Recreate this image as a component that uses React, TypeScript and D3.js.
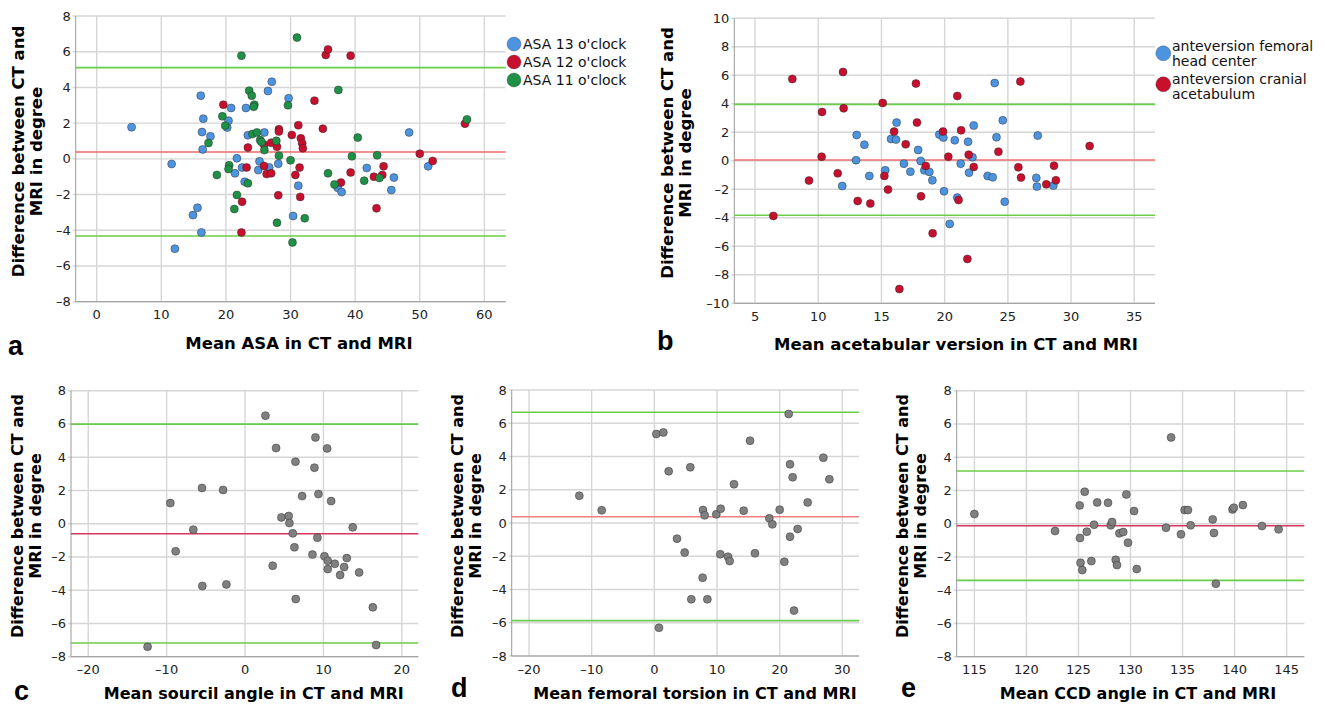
import React from 'react';
import * as d3 from 'd3';

type Pt = [number, number];

// ---------- Panel a: ASA ----------
const asa13: Pt[] = [[5.4,1.77],[11.6,-0.29],[12.1,-5.03],[14.9,-3.15],[15.6,-2.74],[16.2,-4.12],[16.1,3.54],[16.5,2.25],[16.3,1.5],[16.4,0.53],[17.6,1.26],[20.4,2.14],[20.2,1.75],[20.8,2.85],[21.7,0.03],[21.4,-0.81],[22.5,-0.49],[22.9,-1.28],[23.1,2.85],[23.4,1.32],[25.2,-0.14],[25.0,-0.63],[25.95,1.48],[26.7,-0.48],[26.5,3.8],[27.1,4.32],[28.1,-0.27],[29.7,3.39],[31.2,-1.5],[30.4,-3.2],[37.3,-1.62],[37.9,-1.86],[41.8,-0.51],[46.0,-1.05],[45.6,-1.75],[48.35,1.48],[51.3,-0.42]];
const asa12: Pt[] = [[19.6,3.03],[23.4,0.63],[23.2,-0.48],[22.5,-2.4],[22.4,-4.12],[25.9,0.79],[25.9,-0.4],[26.3,-0.85],[27.0,-0.81],[27.0,0.9],[27.9,0.68],[28.2,1.66],[28.2,1.53],[28.1,-2.04],[30.2,1.34],[30.75,-0.9],[31.2,1.88],[31.4,-0.49],[31.5,-2.13],[31.6,1.15],[31.8,0.87],[31.9,0.59],[33.7,3.26],[35.0,1.69],[35.45,5.82],[35.8,6.13],[39.3,5.78],[39.3,-0.76],[37.8,-1.33],[42.9,-1.0],[44.2,-0.9],[44.4,-0.42],[43.3,-2.77],[50.0,0.29],[52.0,-0.12],[57.0,1.97]];
const asa11: Pt[] = [[18.6,-0.9],[17.3,0.89],[19.45,2.38],[19.9,1.86],[20.5,-0.36],[20.4,-0.57],[21.7,-2.02],[21.3,-2.81],[22.4,5.78],[23.6,3.82],[24.0,3.54],[24.4,3.03],[24.3,2.92],[23.4,-1.37],[24.1,1.39],[24.8,1.48],[25.3,1.05],[25.5,0.95],[25.95,0.49],[27.8,1.01],[27.9,-3.58],[28.2,0.18],[29.6,3.0],[30.0,-0.08],[31.0,6.79],[30.3,-4.68],[32.2,-3.33],[35.8,-0.81],[37.4,3.86],[36.8,-1.43],[40.4,1.19],[39.5,0.14],[41.4,-1.22],[43.4,0.2],[43.75,-1.07],[57.3,2.21]];
const asaLines = { mean: 0.38, upper: 5.11, lower: -4.32 };
const asaLegend = ["ASA 13 o'clock", "ASA 12 o'clock", "ASA 11 o'clock"];

// ---------- Panel b: acetabular version ----------
const antFemoral: Pt[] = [[13.04,1.81],[13.65,1.13],[12.99,0.04],[11.9,-1.77],[14.04,-1.06],[15.3,-0.67],[15.76,1.53],[16.15,1.49],[16.2,2.68],[16.78,-0.2],[17.29,-0.76],[17.9,0.76],[18.1,-0.01],[18.39,-0.67],[18.79,-0.78],[19.03,-1.37],[19.58,1.84],[19.9,1.63],[19.95,-2.14],[20.4,-4.43],[20.8,1.44],[21.0,-2.58],[21.27,-0.2],[21.85,1.34],[21.93,-0.83],[22.2,0.25],[22.3,2.47],[23.4,-1.06],[23.8,-1.16],[23.96,5.46],[24.1,1.65],[24.6,2.84],[24.75,-2.87],[27.36,1.77],[27.25,-1.2],[27.3,-1.81],[28.6,-1.74]];
const antCranial: Pt[] = [[7.95,5.74],[6.45,-3.87],[9.27,-1.39],[10.3,3.43],[10.27,0.29],[11.96,6.23],[12.01,3.68],[11.54,-0.88],[13.12,-2.82],[14.12,-3.0],[15.1,4.06],[15.23,-1.06],[15.52,-2.02],[16.0,2.05],[16.42,-9.0],[16.92,1.16],[17.73,5.42],[17.81,2.68],[18.13,-2.49],[18.5,-0.36],[19.05,-5.09],[19.87,2.05],[20.29,0.29],[21.0,4.55],[21.1,-2.75],[21.3,2.14],[21.8,-6.89],[21.9,0.43],[22.3,-0.43],[24.25,0.64],[25.99,5.56],[25.83,-0.46],[26.04,-1.18],[28.04,-1.65],[28.65,-0.34],[28.8,-1.37],[31.47,1.04]];
const versionLines = { mean: 0.06, upper: 3.96, lower: -3.82 };
const versionLegend = [["anteversion femoral", "head center"], ["anteversion cranial", "acetabulum"]];

// ---------- Panel c: sourcil angle ----------
const sourcil: Pt[] = [[-12.43,-7.4],[-9.53,1.24],[-8.85,-1.66],[-6.6,-0.36],[-5.49,2.15],[-5.45,-3.75],[-2.8,2.03],[-2.38,-3.65],[2.6,6.5],[3.53,-2.53],[3.96,4.55],[4.64,0.38],[5.57,0.46],[5.66,0.04],[6.09,-0.58],[6.3,-1.42],[6.43,3.73],[6.47,-4.53],[7.28,1.66],[8.6,-1.86],[8.85,3.37],[8.98,5.19],[9.23,-0.84],[9.36,1.78],[10.13,-1.96],[10.47,4.53],[10.55,-2.23],[10.55,-2.73],[10.98,1.36],[11.45,-2.41],[12.13,-3.09],[12.64,-2.61],[12.98,-2.07],[13.74,-0.22],[14.55,-2.93],[16.3,-5.03],[16.72,-7.3]];
const sourcilLines = { mean: -0.6, upper: 5.99, lower: -7.18 };

// ---------- Panel d: femoral torsion ----------
const torsion: Pt[] = [[-11.97,1.64],[-8.4,0.76],[0.32,5.35],[1.44,5.45],[0.74,-6.3],[2.29,3.11],[3.62,-0.94],[4.84,-1.78],[5.74,3.35],[5.9,-4.59],[7.77,0.78],[8.03,0.46],[7.71,-3.29],[8.46,-4.59],[9.89,0.52],[10.59,0.86],[10.53,-1.88],[11.76,-2.03],[12.02,-2.29],[12.71,2.33],[14.26,0.74],[15.27,4.95],[16.06,-1.82],[18.35,0.28],[18.83,-0.08],[20.0,0.8],[20.74,-2.33],[21.44,6.56],[21.65,-0.82],[21.65,3.53],[22.07,2.75],[22.29,-5.27],[22.87,-0.36],[24.47,1.24],[26.97,3.93],[27.93,2.63]];
const torsionLines = { mean: 0.38, upper: 6.66, lower: -5.87 };

// ---------- Panel e: CCD angle ----------
const ccd: Pt[] = [[115.0,0.58],[122.75,-0.44],[125.12,1.1],[125.15,-0.86],[125.2,-2.35],[125.37,-2.79],[125.6,1.92],[125.8,-0.48],[126.24,-2.25],[126.5,-0.06],[126.8,1.28],[127.84,1.26],[128.1,-0.1],[128.23,0.1],[128.58,-2.17],[128.7,-2.49],[128.93,-0.58],[129.3,-0.5],[129.6,1.76],[129.76,-1.14],[130.34,0.76],[130.6,-2.73],[133.41,-0.24],[133.9,5.19],[134.85,-0.64],[135.2,0.82],[135.52,0.82],[135.78,-0.1],[137.9,0.26],[138.02,-0.56],[138.2,-3.61],[139.8,0.86],[139.93,0.96],[140.8,1.12],[142.63,-0.14],[144.23,-0.34]];
const ccdLines = { mean: -0.12, upper: 3.17, lower: -3.41 };

// tick values
const yTicks8 = [-8, -6, -4, -2, 0, 2, 4, 6, 8];
const yTicks10 = [-10, -8, -6, -4, -2, 0, 2, 4, 6, 8, 10];
const xTicksA = [0, 10, 20, 30, 40, 50, 60];
const xTicksB = [5, 10, 15, 20, 25, 30, 35];
const xTicksC = [-20, -10, 0, 10, 20];
const xTicksD = [-20, -10, 0, 10, 20, 30];
const xTicksE = [115, 120, 125, 130, 135, 140, 145];

const BLUE = '#4d94e0';
const RED = '#c8102e';
const GREEN = '#1f9147';
const GRAY = '#808080';
const LOA = '#6acd4a';
const FONT = "'DejaVu Sans', Verdana, sans-serif";
const LETTER_FONT = "'Liberation Sans', Arial, sans-serif";

type Series = { data: Pt[]; fill: string };
type Cfg = {
  left: number; right: number; top: number; bottom: number;
  xDomain: [number, number]; yDomain: [number, number];
  xTicks: number[]; yTicks: number[];
  series: Series[];
  lines: { mean: number; upper: number; lower: number };
  meanColor: string;
  xTitle: string; xTitleX: number; xTitleY: number;
  yTitleX1: number; yTitleX2: number; yTitleCY: number;
  letter: string; letterX: number; letterY: number;
  titleSize: number;
};

const fmt = (v: number) => (v < 0 ? '\u2013' + Math.abs(v) : String(v));

function Panel({ c }: { c: Cfg }) {
  const x = d3.scaleLinear().domain(c.xDomain).range([c.left, c.right]);
  const y = d3.scaleLinear().domain(c.yDomain).range([c.bottom, c.top]);
  return (
    <g>
      {c.xTicks.map((t) => (
        <line key={'gx' + t} x1={x(t)} x2={x(t)} y1={c.top} y2={c.bottom} stroke="#d6d6d6" strokeWidth={1.4} />
      ))}
      {c.yTicks.map((t) => (
        <line key={'gy' + t} x1={c.left - 3} x2={c.right} y1={y(t)} y2={y(t)} stroke="#d6d6d6" strokeWidth={1.4} />
      ))}
      <line x1={c.left} x2={c.left} y1={c.top} y2={c.bottom} stroke="#9a9a9a" strokeWidth={1} />
      <line x1={c.left} x2={c.right} y1={c.bottom} y2={c.bottom} stroke="#9a9a9a" strokeWidth={1} />
      <line x1={c.left} x2={c.right} y1={y(c.lines.upper)} y2={y(c.lines.upper)} stroke={LOA} strokeWidth={1.6} />
      <line x1={c.left} x2={c.right} y1={y(c.lines.lower)} y2={y(c.lines.lower)} stroke={LOA} strokeWidth={1.6} />
      <line x1={c.left} x2={c.right} y1={y(c.lines.mean)} y2={y(c.lines.mean)} stroke={c.meanColor} strokeWidth={1.6} />
      {c.series.map((s, si) => (
        <g key={'s' + si}>
          {s.data.map((p, i) => (
            <circle key={i} cx={x(p[0])} cy={y(p[1])} r={4} fill={s.fill} stroke="rgba(40,40,40,0.65)" strokeWidth={0.7} />
          ))}
        </g>
      ))}
      {c.yTicks.map((t) => (
        <text key={'ty' + t} x={c.left - 5} y={y(t)} textAnchor="end" dominantBaseline="central" fontFamily={FONT} fontSize={13} fill="#222">{fmt(t)}</text>
      ))}
      {c.xTicks.map((t) => (
        <text key={'tx' + t} x={x(t)} y={c.bottom + 17.5} textAnchor="middle" fontFamily={FONT} fontSize={13} fill="#222">{fmt(t)}</text>
      ))}
      <text x={c.xTitleX} y={c.xTitleY} textAnchor="middle" fontFamily={FONT} fontWeight="bold" fontSize={c.titleSize} fill="#000">{c.xTitle}</text>
      <text transform={`translate(${c.yTitleX1},${c.yTitleCY}) rotate(-90)`} textAnchor="middle" dominantBaseline="central" fontFamily={FONT} fontWeight="bold" fontSize={c.titleSize} fill="#000">Difference between CT and</text>
      <text transform={`translate(${c.yTitleX2},${c.yTitleCY}) rotate(-90)`} textAnchor="middle" dominantBaseline="central" fontFamily={FONT} fontWeight="bold" fontSize={c.titleSize} fill="#000">MRI in degree</text>
      <text x={c.letterX} y={c.letterY} fontFamily={LETTER_FONT} fontWeight="bold" fontSize={27} fill="#000">{c.letter}</text>
    </g>
  );
}

const panels: Cfg[] = [
  {
    left: 75.7, right: 505.7, top: 16, bottom: 301.7,
    xDomain: [-3.25, 63.3], yDomain: [-8, 8], xTicks: xTicksA, yTicks: yTicks8,
    series: [{ data: asa13, fill: BLUE }, { data: asa12, fill: RED }, { data: asa11, fill: GREEN }],
    lines: asaLines, meanColor: '#ec6a6c',
    xTitle: 'Mean ASA in CT and MRI', xTitleX: 299, xTitleY: 349,
    yTitleX1: 18.3, yTitleX2: 36, yTitleCY: 151.5,
    letter: 'a', letterX: 8, letterY: 355, titleSize: 16.5,
  },
  {
    left: 734.3, right: 1155, top: 18.3, bottom: 303.3,
    xDomain: [3.36, 36.64], yDomain: [-10, 10], xTicks: xTicksB, yTicks: yTicks10,
    series: [{ data: antFemoral, fill: BLUE }, { data: antCranial, fill: RED }],
    lines: versionLines, meanColor: '#ef6f6f',
    xTitle: 'Mean acetabular version in CT and MRI', xTitleX: 956, xTitleY: 350,
    yTitleX1: 667.3, yTitleX2: 685, yTitleCY: 153,
    letter: 'b', letterX: 657, letterY: 350, titleSize: 16.5,
  },
  {
    left: 71, right: 418.3, top: 390.7, bottom: 656.7,
    xDomain: [-22.2, 22.1], yDomain: [-8, 8], xTicks: xTicksC, yTicks: yTicks8,
    series: [{ data: sourcil, fill: GRAY }],
    lines: sourcilLines, meanColor: '#d8365b',
    xTitle: 'Mean sourcil angle in CT and MRI', xTitleX: 253.7, xTitleY: 699,
    yTitleX1: 17.3, yTitleX2: 35, yTitleCY: 516,
    letter: 'c', letterX: 14, letterY: 700, titleSize: 16,
  },
  {
    left: 511.7, right: 859, top: 390, bottom: 656,
    xDomain: [-22.76, 32.66], yDomain: [-8, 8], xTicks: xTicksD, yTicks: yTicks8,
    series: [{ data: torsion, fill: GRAY }],
    lines: torsionLines, meanColor: '#f07f7f',
    xTitle: 'Mean femoral torsion in CT and MRI', xTitleX: 695, xTitleY: 699,
    yTitleX1: 457.3, yTitleX2: 475, yTitleCY: 516,
    letter: 'd', letterX: 451, letterY: 697, titleSize: 16,
  },
  {
    left: 956.7, right: 1304.3, top: 390.7, bottom: 656.7,
    xDomain: [113.3, 146.7], yDomain: [-8, 8], xTicks: xTicksE, yTicks: yTicks8,
    series: [{ data: ccd, fill: GRAY }],
    lines: ccdLines, meanColor: '#dc3660',
    xTitle: 'Mean CCD angle in CT and MRI', xTitleX: 1138, xTitleY: 699,
    yTitleX1: 902.7, yTitleX2: 920, yTitleCY: 516,
    letter: 'e', letterX: 901, letterY: 697, titleSize: 16,
  },
];

export default function App() {
  const legendAColors = [BLUE, RED, GREEN];
  const legendBColors = [BLUE, RED];
  return (
    <svg width={1325} height={706} style={{ position: 'absolute', left: 0, top: 0, background: '#fff' }}>
      <rect x={0} y={0} width={1325} height={706} fill="#fff" />
      {panels.map((p, i) => <Panel key={i} c={p} />)}
      {asaLegend.map((t, i) => (
        <g key={'la' + i}>
          <circle cx={514} cy={44 + i * 18} r={7} fill={legendAColors[i]} stroke="rgba(40,40,40,0.5)" strokeWidth={0.6} />
          <text x={523} y={44 + i * 18} dominantBaseline="central" fontFamily={FONT} fontSize={14} fill="#111">{t}</text>
        </g>
      ))}
      {versionLegend.map((lines, i) => (
        <g key={'lb' + i}>
          <circle cx={1163.3} cy={53.3 + i * 31} r={7.5} fill={legendBColors[i]} stroke="rgba(40,40,40,0.5)" strokeWidth={0.6} />
          {lines.map((l, j) => (
            <text key={j} x={1172} y={51 + i * 32.5 + j * 15} fontFamily={FONT} fontSize={14} fill="#111">{l}</text>
          ))}
        </g>
      ))}
    </svg>
  );
}
